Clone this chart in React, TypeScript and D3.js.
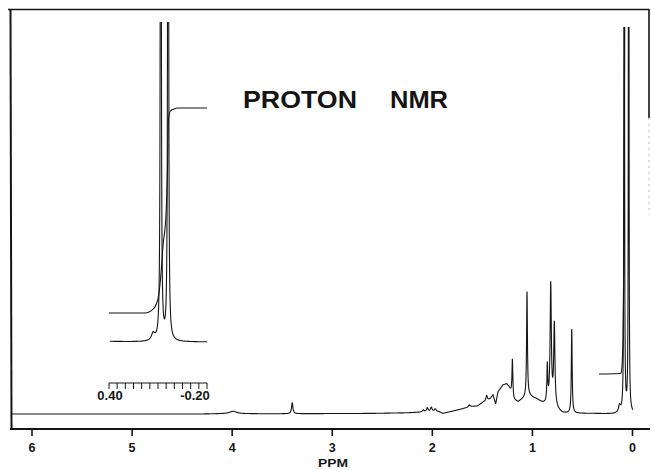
import React, { useMemo } from 'react';
import * as d3 from 'd3';

// ---- Data ----
const xTickValues = [6, 5, 4, 3, 2, 1, 0];
const xTickLabels = ['6', '5', '4', '3', '2', '1', '0'];
const axisTitle = 'PPM';
const titleWords = ['PROTON', 'NMR'];

const insetTickValues = [0.4, 0.35, 0.3, 0.25, 0.2, 0.15, 0.1, 0.05, 0, -0.05, -0.1, -0.15, -0.2];
const insetLabelValues = [0.4, -0.2];
const insetLabelTexts = ['0.40', '-0.20'];

// resolved peaks: position (ppm), height (intensity units), half width (ppm)
const peakPpm = [3.99, 3.40, 2.09, 2.05, 2.01, 1.97, 1.63, 1.457, 1.20, 1.054, 0.851, 0.817, 0.781, 0.607, 0.13, 0.083, 0.038];
const peakHeight = [2.5, 11, 2, 4, 4.5, 3, 2, 5, 36, 105, 36, 118, 80, 84, 7, 1800, 1800];
const peakWidth = [0.04, 0.008, 0.01, 0.01, 0.01, 0.012, 0.01, 0.008, 0.005, 0.005, 0.005, 0.007, 0.007, 0.005, 0.012, 0.0018, 0.0018];

// broad envelope under the aliphatic region
const humpPpm = [6.25, 4.3, 4.1, 3.9, 3.6, 2.6, 2.25, 2.12, 1.93, 1.895, 1.82, 1.72, 1.62, 1.55, 1.52, 1.49, 1.425, 1.394, 1.367, 1.344, 1.294, 1.257, 1.235, 1.2, 1.185, 1.144, 1.094, 1.06, 1.03, 0.99, 0.96, 0.93, 0.9, 0.87, 0.84, 0.8, 0.77, 0.74, 0.7, 0.66, 0.4, 0.2, -0.25];
const humpValue = [0, 0, 0.3, 0.3, 0.2, 0.6, 1.2, 1.8, 2, 0.5, 2.3, 4.7, 7.3, 8, 10, 12, 15, 19, 10, 22, 29, 30, 27, 19, 14, 12, 15, 17, 18, 16, 15, 13, 11, 10, 11, 11, 7, 3.5, 1, 0.6, 0.5, 0, 0];

// integral traces
const mainIntegralPpm = [0.335, 0.13, 0.115, 0.105, 0.095, 0.088, 0.083, 0.078];
const mainIntegralValue = [40, 40.5, 41, 48, 75, 140, 250, 400];
const insetIntegralPpm = [0.4, 0.18, 0.155, 0.13, 0.11, 0.098, 0.085, 0.069, 0.051, 0.042, 0.036, 0.024, 0.002, -0.016, -0.2];
const insetIntegralValue = [29, 29, 30, 33, 38, 45, 62, 97, 127, 172, 222, 231, 233, 234, 234];

const W = 651;
const H = 470;
const FONT = '"Liberation Sans", Arial, Helvetica, sans-serif';
const INK = '#151515';

export default function App() {
  const hump = useMemo(() => d3.scaleLinear().domain(humpPpm).range(humpValue).clamp(true), []);
  const intensity = (p: number) => {
    let v = hump(p);
    for (let i = 0; i < peakPpm.length; i++) {
      const d = p - peakPpm[i];
      const g2 = peakWidth[i] * peakWidth[i];
      v += (peakHeight[i] * g2) / (d * d + g2);
    }
    return v;
  };

  const sampleGrid = (from: number, to: number, step: number) => {
    const pts: number[] = [];
    for (let p = from; p >= to; p -= step) pts.push(p);
    peakPpm.forEach((p) => { if (p <= from && p >= to) pts.push(p); });
    pts.sort((a, b) => b - a);
    return pts;
  };

  const x = d3.scaleLinear().domain([6, 0]).range([32, 632.5]);
  const y = d3.scaleLinear().domain([0, 387]).range([414, 27]);
  const xi = d3.scaleLinear().domain([0.4, -0.2]).range([109, 207]);
  const yi = d3.scaleLinear().domain([0, 320]).range([342, 22]);

  const mainPath = useMemo(() => {
    const pts = sampleGrid(6.22, -0.004, 0.0005);
    return d3.line<number>().x((p) => x(p)).y((p) => y(intensity(p)))(pts) || '';
  }, []);
  const insetPath = useMemo(() => {
    const pts = sampleGrid(0.395, -0.2, 0.0003);
    return d3.line<number>().x((p) => xi(p)).y((p) => yi(intensity(p)))(pts) || '';
  }, []);
  const mainIntegral = d3.line<number>().x((_, i) => x(mainIntegralPpm[i])).y((v) => y(v)).curve(d3.curveMonotoneX)(mainIntegralValue) || '';
  const insetIntegral = d3.line<number>().x((_, i) => xi(insetIntegralPpm[i])).y((v) => yi(v)).curve(d3.curveMonotoneX)(insetIntegralValue) || '';

  return (
    <svg width={W} height={H} style={{ position: 'absolute', left: 0, top: 0, background: '#fff' }}>
      <defs>
        <clipPath id="mainClip"><rect x={11} y={27} width={639} height={400} /></clipPath>
        <clipPath id="insetClip"><rect x={100} y={22} width={112} height={325} /></clipPath>
      </defs>
      <rect x={0} y={0} width={W} height={H} fill="#fff" />
      {/* frame */}
      <line x1={8} y1={9.5} x2={649} y2={9.5} stroke={INK} strokeWidth={1.6} />
      <line x1={10.5} y1={9} x2={11.5} y2={430} stroke={INK} strokeWidth={2} />
      <line x1={649} y1={9} x2={649} y2={118} stroke={INK} strokeWidth={1.6} />
      <line x1={649} y1={118} x2={649} y2={215} stroke="#bbb" strokeWidth={1} strokeDasharray="2 4" />
      <line x1={10} y1={429} x2={650} y2={429} stroke={INK} strokeWidth={1.8} />
      {xTickValues.map((v, i) => (
        <g key={v}>
          <line x1={x(v)} y1={429} x2={x(v)} y2={436} stroke={INK} strokeWidth={1.6} />
          <text x={x(v)} y={452} textAnchor="middle" fontFamily={FONT} fontWeight="bold" fontSize={12.5} fill={INK}>{xTickLabels[i]}</text>
        </g>
      ))}
      <text x={333} y={467} textAnchor="middle" fontFamily={FONT} fontWeight="bold" fontSize={10.5} fill={INK} textLength={30} lengthAdjust="spacingAndGlyphs">{axisTitle}</text>

      {/* main spectrum */}
      <g clipPath="url(#mainClip)">
        <path d={mainPath} fill="none" stroke={INK} strokeWidth={1.1} />
        <path d={mainIntegral} fill="none" stroke={INK} strokeWidth={1.1} />
      </g>

      {/* inset */}
      <g clipPath="url(#insetClip)">
        <path d={insetPath} fill="none" stroke={INK} strokeWidth={1.1} />
        <path d={insetIntegral} fill="none" stroke={INK} strokeWidth={1.1} />
      </g>
      <line x1={xi(0.4)} y1={383} x2={xi(-0.2)} y2={383} stroke={INK} strokeWidth={1} />
      {insetTickValues.map((v) => (
        <line key={v} x1={xi(v)} y1={383} x2={xi(v)} y2={389} stroke={INK} strokeWidth={1} />
      ))}
      {insetLabelValues.map((v, i) => (
        <text key={v} x={xi(v) + (i === 0 ? 1 : -12)} y={400} textAnchor="middle" fontFamily={FONT} fontWeight="bold" fontSize={13} fill={INK}>{insetLabelTexts[i]}</text>
      ))}

      {/* title */}
      <text x={243} y={108} fontFamily={FONT} fontWeight="bold" fontSize={23} fill={INK} textLength={114} lengthAdjust="spacingAndGlyphs">{titleWords[0]}</text>
      <text x={390} y={108} fontFamily={FONT} fontWeight="bold" fontSize={23} fill={INK} textLength={58} lengthAdjust="spacingAndGlyphs">{titleWords[1]}</text>
    </svg>
  );
}
